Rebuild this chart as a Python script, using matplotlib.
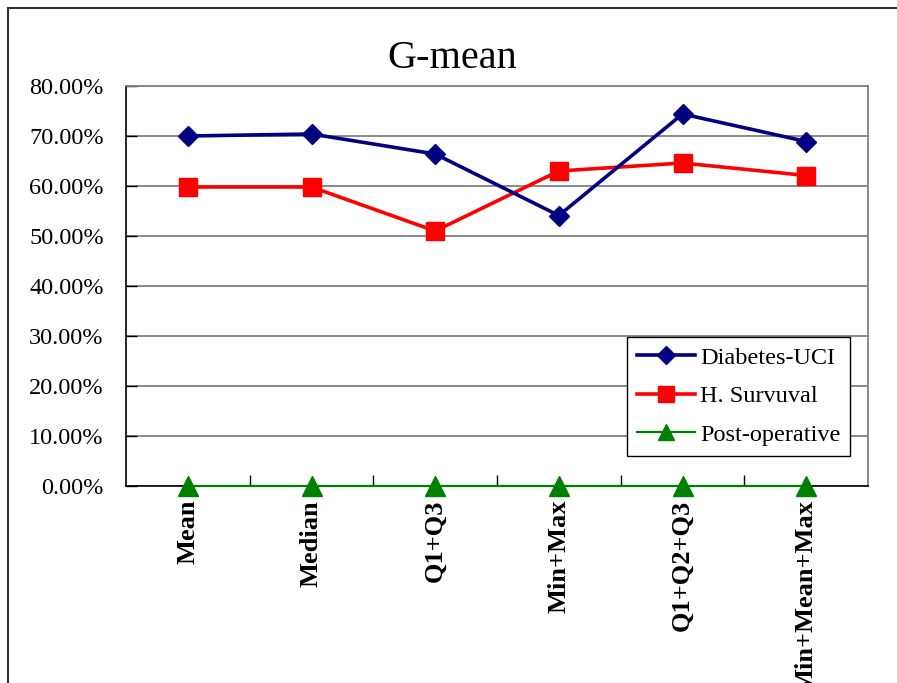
import matplotlib
matplotlib.use("Agg")
import matplotlib.pyplot as plt
from matplotlib.lines import Line2D
from matplotlib.ticker import FuncFormatter, FixedLocator

plt.rcParams['font.family'] = ['Liberation Serif', 'DejaVu Serif']

categories = ["Mean", "Median", "Q1+Q3", "Min+Max", "Q1+Q2+Q3", "Min+Mean+Max"]
diabetes_uci = [70.0, 70.4, 66.4, 54.1, 74.4, 68.9]
h_survival = [59.8, 59.8, 51.0, 63.0, 64.6, 62.1]
post_operative = [0.0, 0.0, 0.0, 0.0, 0.0, 0.0]
y_ticks = [0, 10, 20, 30, 40, 50, 60, 70, 80]

W, H = 897, 683
fig = plt.figure(figsize=(W / 100, H / 100), dpi=100)
fig.patch.set_facecolor("white")

# outer chart frame (left and top edges visible)
fig.add_artist(Line2D([8 / W, 8 / W], [0, 1 - 8 / H], color="#333333", lw=1.5))
fig.add_artist(Line2D([8 / W, 1], [1 - 8 / H, 1 - 8 / H], color="#333333", lw=1.5))

left, right, top, bottom = 126, 868, 86, 486
ax = fig.add_axes([left / W, 1 - bottom / H, (right - left) / W, (bottom - top) / H])

x = list(range(len(categories)))
ax.plot(x, diabetes_uci, color="#000080", lw=2.6, marker="D", ms=10.5,
        mec="#000080", mfc="#000080", label="Diabetes-UCI", zorder=4)
ax.plot(x, h_survival, color="#FF0000", lw=2.6, marker="s", ms=13.5,
        mec="#FF0000", mfc="#FF0000", label="H. Survuval", zorder=3)
ax.plot(x, post_operative, color="#008000", lw=1.6, marker="^", ms=14,
        mec="#008000", mfc="#008000", label="Post-operative", zorder=5,
        clip_on=False)

ax.set_xlim(-0.5, len(categories) - 0.5)
ax.set_ylim(0, 80)
ax.set_yticks(y_ticks)
ax.yaxis.set_major_formatter(FuncFormatter(lambda v, p: f"{v:.2f}%"))
ax.yaxis.grid(True, color="#808080", lw=1.3)
ax.set_axisbelow(True)

ax.set_xticks(x)
ax.set_xticklabels(categories, rotation=90, fontweight="bold", fontsize=19,
                   va="top", ha="center")
ax.xaxis.set_minor_locator(FixedLocator([i + 0.5 for i in range(len(categories) - 1)]))
ax.tick_params(axis="x", which="major", length=0, pad=10)
ax.tick_params(axis="x", which="minor", direction="in", length=8, width=1, color="black")
ax.tick_params(axis="y", direction="in", length=8, width=1, labelsize=17.5, pad=16,
               color="black")

for s in ("top", "right"):
    ax.spines[s].set_color("#808080")
    ax.spines[s].set_linewidth(1.3)
for s in ("left", "bottom"):
    ax.spines[s].set_color("black")
    ax.spines[s].set_linewidth(1.2)

fig.text(452 / W, 1 - 59 / H, "G-mean", ha="center", va="center", fontsize=29)

leg = ax.legend(loc="upper left", bbox_to_anchor=(627 / W, 1 - 337 / H),
                bbox_transform=fig.transFigure, borderaxespad=0, fontsize=17.5,
                frameon=True, fancybox=False, edgecolor="black",
                handlelength=2.4, handletextpad=0.2, labelspacing=0.68,
                borderpad=0.4, framealpha=1)
leg.get_frame().set_linewidth(1.0)
for h in leg.legend_handles:
    h.set_markersize(h.get_markersize() * 0.85)

fig.savefig("out.png", dpi=100, facecolor="white")
